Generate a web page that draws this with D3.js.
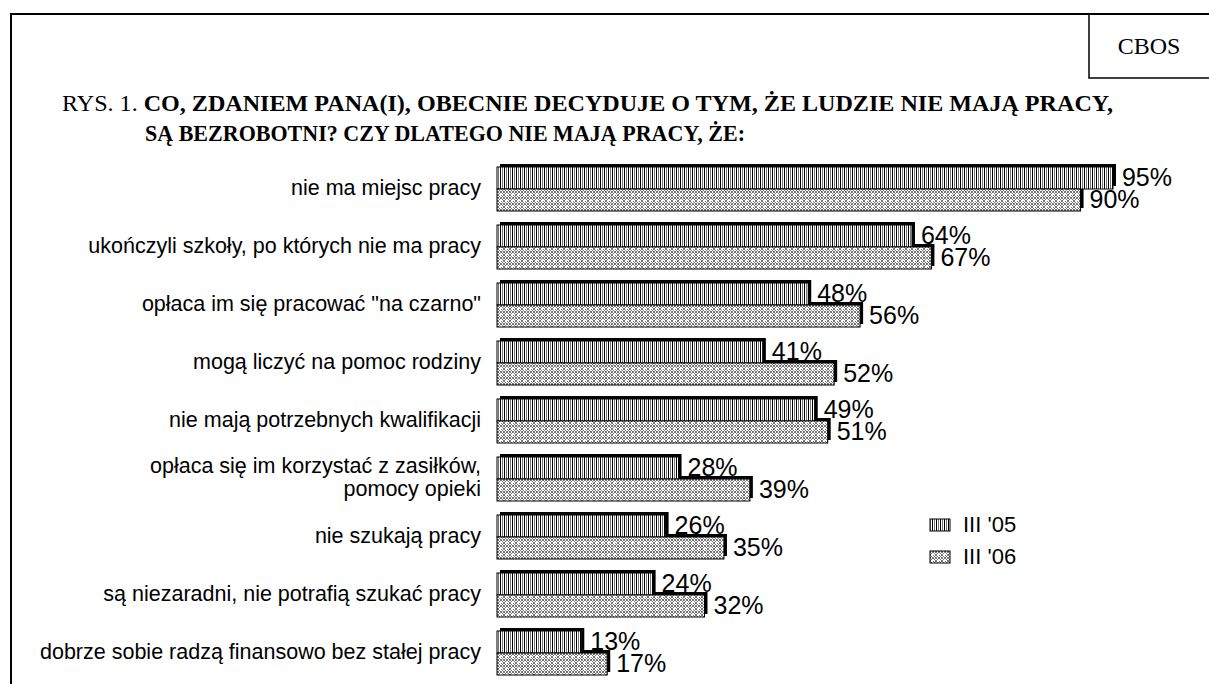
<!DOCTYPE html>
<html><head><meta charset="utf-8">
<script src="https://cdn.jsdelivr.net/npm/d3@7"></script>
<style>body{margin:0;background:#fff}svg{display:block}</style>
</head><body>
<svg id="c" width="1209" height="684"></svg>
<script>
const categories = [
  ["nie ma miejsc pracy"],
  ["ukończyli szkoły, po których nie ma pracy"],
  ["opłaca im się pracować \"na czarno\""],
  ["mogą liczyć na pomoc rodziny"],
  ["nie mają potrzebnych kwalifikacji"],
  ["opłaca się im korzystać z zasiłków,", "pomocy opieki"],
  ["nie szukają pracy"],
  ["są niezaradni, nie potrafią szukać pracy"],
  ["dobrze sobie radzą finansowo bez stałej pracy"]
];
const seriesNames = ["III '05", "III '06"];
const values05 = [95, 64, 48, 41, 49, 28, 26, 24, 13];
const values06 = [90, 67, 56, 52, 51, 39, 35, 32, 17];

const svg = d3.select("#c");
const defs = svg.append("defs");
const p1 = defs.append("pattern").attr("id","pv").attr("patternUnits","userSpaceOnUse").attr("width",4).attr("height",4);
p1.append("rect").attr("width",4).attr("height",4).attr("fill","#fff");
p1.append("rect").attr("x",0).attr("width",1).attr("height",4).attr("fill","#000");
p1.append("rect").attr("x",2).attr("width",1).attr("height",4).attr("fill","#777");
const p2 = defs.append("pattern").attr("id","px").attr("patternUnits","userSpaceOnUse").attr("width",6).attr("height",6);
p2.append("rect").attr("width",6).attr("height",6).attr("fill","#fff");
p2.append("path").attr("d","M0,0h1v1h-1z M2,0h2v1h-2z M5,0h1v1h-1z M1,1h1v1h-1z M4,1h1v1h-1z M0,2h1v2h-1z M5,2h1v2h-1z M1,4h1v1h-1z M4,4h1v1h-1z M0,5h1v1h-1z M2,5h2v1h-2z M5,5h1v1h-1z").attr("fill","#777");
p2.append("path").attr("d","M3,3h0.8v0.8h-0.8z").attr("fill","#333");

const serif = "Liberation Serif, Times New Roman, serif";
const sans = "Liberation Sans, Arial, sans-serif";

svg.append("path").attr("d","M11,684 V14 H1209").attr("fill","none").attr("stroke","#000").attr("stroke-width",2);
svg.append("path").attr("d","M1089,14 V78 H1209").attr("fill","none").attr("stroke","#000").attr("stroke-width",1.5);
svg.append("text").attr("x",1149).attr("y",54).attr("text-anchor","middle")
  .attr("font-family",serif).attr("font-size",24).text("CBOS");

const t1 = svg.append("text").attr("x",62).attr("y",111).attr("font-family",serif).attr("font-size",23)
  .attr("textLength",1051).attr("lengthAdjust","spacingAndGlyphs");
t1.append("tspan").text("RYS. 1. ");
t1.append("tspan").attr("font-weight","bold").text("CO, ZDANIEM PANA(I), OBECNIE DECYDUJE O TYM, ŻE LUDZIE NIE MAJĄ  PRACY,");
svg.append("text").attr("x",145).attr("y",141).attr("font-family",serif).attr("font-size",23)
  .attr("textLength",600).attr("lengthAdjust","spacingAndGlyphs")
  .attr("font-weight","bold").text("SĄ BEZROBOTNI? CZY DLATEGO NIE MAJĄ PRACY, ŻE:");

const x = d3.scaleLinear().domain([0,100]).range([497, 497+648.4]);
const y = d3.scaleBand().domain(d3.range(categories.length)).range([160, 682]).paddingInner(0.241).paddingOuter(0.1205);
const ys = d3.scaleBand().domain([0,1]).range([0, y.bandwidth()]);

const rows = categories.map((c,i)=>({i, label:c, vals:[values05[i], values06[i]]}));
const bars = [];
rows.forEach(r => r.vals.forEach((v,s)=>bars.push({i:r.i, s, v})));

const g = svg.append("g");
g.selectAll("rect.sh").data(bars).join("rect").attr("class","sh")
  .attr("x", d=>x(0)+3).attr("y", d=>y(d.i)+ys(d.s)-3)
  .attr("width", d=>x(d.v)-x(0)).attr("height", ys.bandwidth()).attr("fill","#000");
g.selectAll("rect.bar").data(bars).join("rect").attr("class","bar")
  .attr("x", d=>x(0)).attr("y", d=>y(d.i)+ys(d.s))
  .attr("width", d=>x(d.v)-x(0)).attr("height", ys.bandwidth())
  .attr("fill", d=>d.s===0?"url(#pv)":"url(#px)").attr("stroke","#000").attr("stroke-width",1);

g.selectAll("text.val").data(bars).join("text").attr("class","val")
  .attr("x", d=>x(d.v)+9).attr("y", d=>y(d.i)+ys(d.s)+ys.bandwidth()/2+1)
  .attr("dominant-baseline","middle").attr("font-family",sans)
  .attr("font-size",25).text(d=>d.v+"%");

const cl = g.selectAll("text.cat").data(rows).join("text").attr("class","cat")
  .attr("text-anchor","end").attr("font-family",sans).attr("font-size",21.5);
cl.each(function(d){
  const n = d.label.length;
  const cy = y(d.i)+y.bandwidth()/2;
  d3.select(this).selectAll("tspan").data(d.label).join("tspan")
    .attr("x",481).attr("y",(t,k)=>cy + (k-(n-1)/2)*23).attr("dominant-baseline","middle").text(t=>t);
});

const lg = svg.append("g");
seriesNames.forEach((nm,k)=>{
  const ly = 525 + k*32;
  lg.append("rect").attr("x",930).attr("y",ly-6).attr("width",20).attr("height",12)
    .attr("fill", k===0?"url(#pv)":"url(#px)").attr("stroke","#000");
  lg.append("text").attr("x",963).attr("y",ly+1).attr("dominant-baseline","middle")
    .attr("font-family",sans).attr("font-size",22).text(nm);
});
</script>
</body></html>
